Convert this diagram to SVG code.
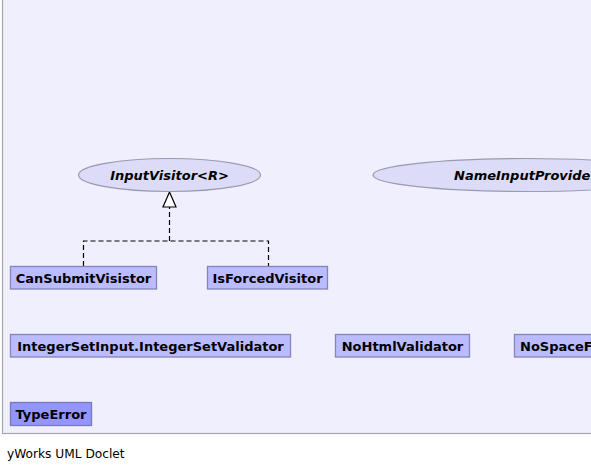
<svg xmlns="http://www.w3.org/2000/svg" width="591" height="471" viewBox="0 0 591 471">
<style>
.box{fill:#bbbbff;stroke:#8484b8;stroke-width:1.3}
.err{fill:#9595ff;stroke:#7878b8;stroke-width:1.3}
.ell{fill:#dcdcf8;stroke:#9a9ab0;stroke-width:1.2}
.bt{font-family:"DejaVu Sans",sans-serif;font-weight:bold;font-size:13px;fill:#000}
.it{font-family:"DejaVu Sans",sans-serif;font-weight:bold;font-style:italic;font-size:13px;fill:#000}
.edge{fill:none;stroke:#000;stroke-width:1.2;stroke-dasharray:5,3}
</style>
<rect x="0" y="0" width="591" height="471" fill="#ffffff"/>
<rect x="2.5" y="-2" width="600" height="435.5" fill="#efeffd" stroke="#a6a6b0" stroke-width="1.2"/>
<g id="connectors">
<path class="edge" d="M83.5,266 V241 H268.5 V266 M169.5,241 V207"/>
<polygon points="169.5,192 163,207 176,207" fill="#ffffff" stroke="#000" stroke-width="1.2"/>
</g>
<g id="InputVisitor">
<ellipse class="ell" cx="169.5" cy="175" rx="91" ry="16.5"/>
<text class="it" x="169.5" y="179.5" text-anchor="middle">InputVisitor&lt;R&gt;</text>
</g>
<g id="NameInputProvider">
<ellipse class="ell" cx="526" cy="175" rx="153" ry="16.5"/>
<text class="it" x="454" y="179.5">NameInputProvider</text>
</g>
<g id="CanSubmitVisistor">
<rect class="box" x="10.5" y="266.5" width="146" height="22.5"/>
<text class="bt" x="83.5" y="282.5" text-anchor="middle">CanSubmitVisistor</text>
</g>
<g id="IsForcedVisitor">
<rect class="box" x="207.5" y="266.5" width="120" height="22.5"/>
<text class="bt" x="267.5" y="282.5" text-anchor="middle">IsForcedVisitor</text>
</g>
<g id="IntegerSetValidator">
<rect class="box" x="10.5" y="334.5" width="280" height="22.5"/>
<text class="bt" x="150.5" y="350.5" text-anchor="middle">IntegerSetInput.IntegerSetValidator</text>
</g>
<g id="NoHtmlValidator">
<rect class="box" x="335.5" y="334.5" width="134" height="22.5"/>
<text class="bt" x="402.5" y="350.5" text-anchor="middle">NoHtmlValidator</text>
</g>
<g id="NoSpace">
<rect class="box" x="514.5" y="334.5" width="120" height="22.5"/>
<text class="bt" x="520" y="350.5">NoSpaceF</text>
</g>
<g id="TypeError">
<rect class="err" x="10.5" y="402.5" width="81" height="23"/>
<text class="bt" x="51" y="418.5" text-anchor="middle">TypeError</text>
</g>
<text x="7" y="458" font-family="DejaVu Sans,sans-serif" font-size="12.2px" fill="#000">yWorks UML Doclet</text>
</svg>
